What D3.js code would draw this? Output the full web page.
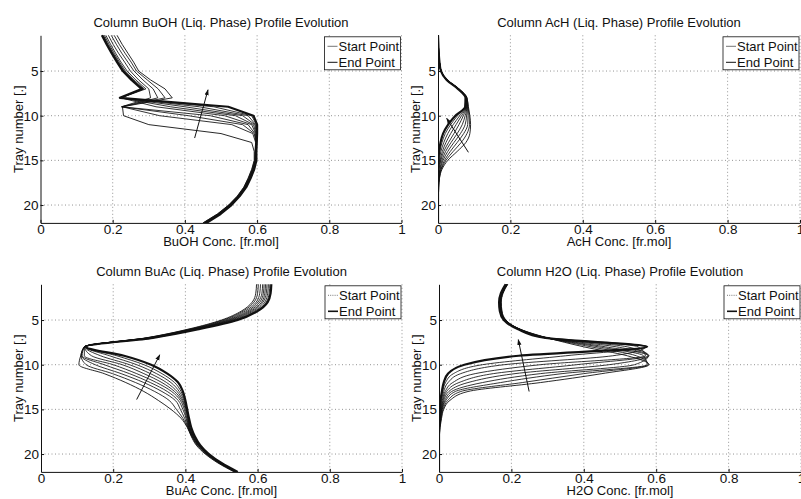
<!DOCTYPE html>
<html lang="en">
  <head>
    <meta charset="UTF-8" />
    <title>Column Profile Evolution</title>
    <script src="https://d3js.org/d3.v7.min.js"></script>
    <style>
      body { margin: 0; background: #fff; }
      svg { display: block; font-family: "Liberation Sans", Arial, sans-serif; }
    </style>
  </head>
  <body>
    <svg id="canvas"></svg>
  </body>
  <script>
    let trays = [1, 2, 3, 4, 5, 6, 7, 8, 9, 10, 11, 12, 13, 14, 15, 16, 17, 18, 19, 20, 21, 22];
    let xTicks = [0, 0.2, 0.4, 0.6, 0.8, 1];
    let xTickLabels = ["0", "0.2", "0.4", "0.6", "0.8", "1"];
    let yTicks = [5, 10, 15, 20];
    let legendLabels = ["Start Point", "End Point"];

    // profiles: first row = start point, last row = end point
    let buohProfiles = [
      [0.212, 0.226, 0.242, 0.258, 0.272, 0.305, 0.345, 0.365, 0.227, 0.230, 0.300, 0.500, 0.585, 0.592, 0.592, 0.585, 0.575, 0.563, 0.545, 0.521, 0.490, 0.450],
      [0.204, 0.218, 0.234, 0.251, 0.266, 0.296, 0.326, 0.345, 0.226, 0.330, 0.530, 0.588, 0.596, 0.594, 0.593, 0.586, 0.576, 0.564, 0.546, 0.522, 0.491, 0.451],
      [0.196, 0.210, 0.225, 0.242, 0.259, 0.284, 0.312, 0.325, 0.225, 0.410, 0.560, 0.592, 0.597, 0.595, 0.594, 0.587, 0.577, 0.565, 0.547, 0.523, 0.493, 0.453],
      [0.188, 0.201, 0.216, 0.233, 0.249, 0.272, 0.300, 0.305, 0.224, 0.470, 0.575, 0.594, 0.598, 0.596, 0.595, 0.588, 0.578, 0.566, 0.548, 0.524, 0.494, 0.454],
      [0.181, 0.194, 0.208, 0.223, 0.240, 0.264, 0.292, 0.223, 0.320, 0.510, 0.585, 0.596, 0.598, 0.597, 0.596, 0.589, 0.579, 0.567, 0.549, 0.525, 0.495, 0.455],
      [0.177, 0.190, 0.204, 0.219, 0.235, 0.259, 0.287, 0.222, 0.360, 0.540, 0.590, 0.597, 0.598, 0.597, 0.596, 0.590, 0.580, 0.568, 0.550, 0.526, 0.496, 0.456],
      [0.174, 0.187, 0.201, 0.216, 0.232, 0.256, 0.284, 0.222, 0.400, 0.560, 0.594, 0.598, 0.598, 0.597, 0.597, 0.591, 0.581, 0.569, 0.551, 0.527, 0.497, 0.457],
      [0.172, 0.185, 0.199, 0.214, 0.230, 0.254, 0.282, 0.221, 0.440, 0.575, 0.596, 0.599, 0.598, 0.597, 0.597, 0.591, 0.581, 0.569, 0.551, 0.528, 0.498, 0.458],
      [0.171, 0.184, 0.198, 0.213, 0.229, 0.253, 0.281, 0.220, 0.480, 0.585, 0.598, 0.600, 0.599, 0.598, 0.598, 0.592, 0.582, 0.570, 0.552, 0.529, 0.499, 0.459],
      [0.170, 0.183, 0.197, 0.212, 0.228, 0.252, 0.280, 0.220, 0.520, 0.590, 0.600, 0.600, 0.599, 0.598, 0.598, 0.592, 0.582, 0.570, 0.552, 0.529, 0.499, 0.460]
    ];

    let achProfiles = [
      [0.000, 0.001, 0.002, 0.004, 0.009, 0.026, 0.058, 0.080, 0.084, 0.088, 0.090, 0.088, 0.077, 0.053, 0.027, 0.011, 0.004, 0.002, 0.001, 0.000, 0.000, 0.000],
      [0.000, 0.001, 0.002, 0.004, 0.009, 0.026, 0.058, 0.080, 0.083, 0.086, 0.087, 0.080, 0.064, 0.042, 0.022, 0.009, 0.004, 0.002, 0.001, 0.000, 0.000, 0.000],
      [0.000, 0.001, 0.002, 0.004, 0.009, 0.025, 0.057, 0.079, 0.082, 0.083, 0.082, 0.071, 0.053, 0.034, 0.018, 0.008, 0.003, 0.001, 0.000, 0.000, 0.000, 0.000],
      [0.000, 0.001, 0.002, 0.004, 0.008, 0.025, 0.057, 0.079, 0.081, 0.079, 0.075, 0.062, 0.044, 0.027, 0.014, 0.006, 0.002, 0.001, 0.000, 0.000, 0.000, 0.000],
      [0.000, 0.001, 0.002, 0.004, 0.008, 0.025, 0.057, 0.078, 0.080, 0.075, 0.067, 0.053, 0.036, 0.021, 0.011, 0.005, 0.002, 0.001, 0.000, 0.000, 0.000, 0.000],
      [0.000, 0.001, 0.002, 0.004, 0.008, 0.024, 0.056, 0.078, 0.079, 0.070, 0.058, 0.044, 0.029, 0.016, 0.008, 0.003, 0.001, 0.000, 0.000, 0.000, 0.000, 0.000],
      [0.000, 0.001, 0.002, 0.004, 0.008, 0.024, 0.056, 0.077, 0.078, 0.065, 0.050, 0.035, 0.022, 0.012, 0.006, 0.002, 0.001, 0.000, 0.000, 0.000, 0.000, 0.000],
      [0.000, 0.001, 0.002, 0.004, 0.008, 0.024, 0.056, 0.077, 0.077, 0.060, 0.042, 0.027, 0.016, 0.008, 0.004, 0.001, 0.000, 0.000, 0.000, 0.000, 0.000, 0.000],
      [0.000, 0.001, 0.002, 0.004, 0.008, 0.024, 0.055, 0.076, 0.076, 0.054, 0.035, 0.020, 0.011, 0.005, 0.002, 0.001, 0.000, 0.000, 0.000, 0.000, 0.000, 0.000],
      [0.000, 0.001, 0.002, 0.004, 0.008, 0.024, 0.055, 0.076, 0.075, 0.048, 0.028, 0.014, 0.007, 0.003, 0.001, 0.000, 0.000, 0.000, 0.000, 0.000, 0.000, 0.000]
    ];

    let buacProfiles = [
      [0.597, 0.595, 0.585, 0.555, 0.500, 0.410, 0.290, 0.120, 0.110, 0.105, 0.175, 0.235, 0.285, 0.325, 0.360, 0.388, 0.405, 0.416, 0.430, 0.455, 0.490, 0.535],
      [0.602, 0.600, 0.590, 0.560, 0.505, 0.414, 0.292, 0.120, 0.111, 0.125, 0.198, 0.262, 0.315, 0.355, 0.375, 0.393, 0.406, 0.417, 0.432, 0.457, 0.492, 0.537],
      [0.608, 0.606, 0.596, 0.566, 0.511, 0.418, 0.295, 0.120, 0.112, 0.150, 0.222, 0.285, 0.335, 0.372, 0.386, 0.398, 0.407, 0.418, 0.434, 0.459, 0.494, 0.539],
      [0.614, 0.612, 0.601, 0.572, 0.517, 0.422, 0.298, 0.120, 0.114, 0.175, 0.245, 0.303, 0.350, 0.380, 0.393, 0.402, 0.408, 0.419, 0.435, 0.460, 0.495, 0.540],
      [0.618, 0.616, 0.606, 0.577, 0.522, 0.425, 0.300, 0.120, 0.120, 0.200, 0.265, 0.320, 0.362, 0.386, 0.397, 0.404, 0.409, 0.420, 0.436, 0.461, 0.496, 0.541],
      [0.622, 0.620, 0.611, 0.582, 0.527, 0.428, 0.302, 0.121, 0.140, 0.225, 0.285, 0.335, 0.370, 0.390, 0.400, 0.406, 0.410, 0.421, 0.437, 0.462, 0.497, 0.542],
      [0.626, 0.624, 0.615, 0.587, 0.532, 0.431, 0.304, 0.122, 0.165, 0.245, 0.303, 0.348, 0.377, 0.393, 0.402, 0.407, 0.411, 0.422, 0.438, 0.463, 0.498, 0.543],
      [0.630, 0.628, 0.620, 0.592, 0.537, 0.434, 0.306, 0.123, 0.190, 0.265, 0.320, 0.360, 0.383, 0.396, 0.403, 0.408, 0.412, 0.423, 0.439, 0.463, 0.498, 0.543],
      [0.634, 0.632, 0.624, 0.596, 0.541, 0.437, 0.308, 0.124, 0.210, 0.285, 0.335, 0.370, 0.388, 0.398, 0.404, 0.409, 0.413, 0.424, 0.440, 0.464, 0.499, 0.544],
      [0.638, 0.636, 0.628, 0.600, 0.545, 0.440, 0.310, 0.125, 0.230, 0.305, 0.350, 0.380, 0.393, 0.400, 0.405, 0.410, 0.416, 0.426, 0.441, 0.465, 0.500, 0.545]
    ];

    let h2oProfiles = [
      [0.190, 0.177, 0.172, 0.174, 0.185, 0.223, 0.300, 0.400, 0.520, 0.580, 0.450, 0.280, 0.080, 0.030, 0.013, 0.007, 0.003, 0.001, 0.000, 0.000, 0.000, 0.000],
      [0.189, 0.176, 0.171, 0.173, 0.184, 0.222, 0.299, 0.420, 0.545, 0.578, 0.400, 0.230, 0.060, 0.024, 0.011, 0.006, 0.002, 0.001, 0.000, 0.000, 0.000, 0.000],
      [0.189, 0.176, 0.171, 0.173, 0.184, 0.222, 0.299, 0.440, 0.565, 0.575, 0.340, 0.170, 0.045, 0.019, 0.009, 0.005, 0.002, 0.001, 0.000, 0.000, 0.000, 0.000],
      [0.188, 0.175, 0.170, 0.172, 0.183, 0.221, 0.298, 0.460, 0.578, 0.540, 0.280, 0.120, 0.035, 0.016, 0.008, 0.004, 0.002, 0.000, 0.000, 0.000, 0.000, 0.000],
      [0.187, 0.174, 0.169, 0.171, 0.182, 0.220, 0.297, 0.490, 0.580, 0.470, 0.210, 0.080, 0.027, 0.013, 0.007, 0.003, 0.001, 0.000, 0.000, 0.000, 0.000, 0.000],
      [0.187, 0.174, 0.169, 0.171, 0.182, 0.220, 0.297, 0.520, 0.578, 0.380, 0.150, 0.055, 0.021, 0.011, 0.006, 0.003, 0.001, 0.000, 0.000, 0.000, 0.000, 0.000],
      [0.186, 0.173, 0.168, 0.170, 0.181, 0.219, 0.296, 0.550, 0.570, 0.280, 0.100, 0.038, 0.017, 0.009, 0.005, 0.002, 0.001, 0.000, 0.000, 0.000, 0.000, 0.000],
      [0.185, 0.172, 0.167, 0.169, 0.180, 0.218, 0.295, 0.570, 0.480, 0.180, 0.060, 0.025, 0.013, 0.007, 0.004, 0.002, 0.001, 0.000, 0.000, 0.000, 0.000, 0.000],
      [0.185, 0.172, 0.167, 0.169, 0.180, 0.218, 0.295, 0.575, 0.350, 0.120, 0.040, 0.018, 0.010, 0.005, 0.003, 0.001, 0.000, 0.000, 0.000, 0.000, 0.000, 0.000],
      [0.184, 0.171, 0.166, 0.168, 0.179, 0.217, 0.294, 0.575, 0.220, 0.070, 0.025, 0.013, 0.008, 0.004, 0.002, 0.001, 0.000, 0.000, 0.000, 0.000, 0.000, 0.000]
    ];

    // arrow annotations [conc, tray] from tail to head
    let buohArrow = [[0.427, 12.5], [0.464, 7.1]];
    let achArrow = [[0.084, 14.1], [0.024, 10.3]];
    let buacArrow = [[0.265, 13.9], [0.329, 8.9]];
    let h2oArrow = [[0.249, 13.0], [0.219, 7.2]];

    let width = 801;
    let height = 499;
    let font = "Liberation Sans, Arial, sans-serif";

    let panels = [
      { name: "BuOH", profiles: buohProfiles, arrow: buohArrow, left: 40.5, right: 401.5, top: 35.3, bottom: 222.9, smooth: false, dotted: false },
      { name: "AcH", profiles: achProfiles, arrow: achArrow, left: 438, right: 800, top: 35.3, bottom: 222.9, smooth: true, dotted: false },
      { name: "BuAc", profiles: buacProfiles, arrow: buacArrow, left: 41, right: 402, top: 284.3, bottom: 471.9, smooth: true, dotted: true },
      { name: "H2O", profiles: h2oProfiles, arrow: h2oArrow, left: 439, right: 801, top: 284.3, bottom: 471.9, smooth: true, dotted: true }
    ];

    let svg = d3.select("svg").attr("width", width).attr("height", height);

    let defs = svg.append("defs");
    defs
      .append("marker")
      .attr("id", "arrowhead")
      .attr("viewBox", "0 0 10 10")
      .attr("refX", 9)
      .attr("refY", 5)
      .attr("markerWidth", 6)
      .attr("markerHeight", 6)
      .attr("orient", "auto")
      .append("path")
      .attr("d", "M0,1.5 L10,5 L0,8.5 z")
      .attr("fill", "#111");

    let drawPanel = (p, idx) => {
      let x = d3.scaleLinear().domain([0, 1]).range([p.left, p.right]);
      let y = d3.scaleLinear().domain([1, 22]).range([p.top, p.bottom]);
      let g = svg.append("g");

      defs
        .append("clipPath")
        .attr("id", "clip" + idx)
        .append("rect")
        .attr("x", p.left)
        .attr("y", p.top - 3)
        .attr("width", p.right - p.left)
        .attr("height", p.bottom - p.top + 3);

      // grid
      g.selectAll(".vgrid")
        .data(xTicks.slice(1))
        .enter()
        .append("line")
        .attr("x1", (d) => x(d))
        .attr("x2", (d) => x(d))
        .attr("y1", p.top)
        .attr("y2", p.bottom)
        .attr("stroke", "#666")
        .attr("stroke-width", 0.7)
        .attr("stroke-dasharray", "1,2.5");

      g.selectAll(".hgrid")
        .data(yTicks)
        .enter()
        .append("line")
        .attr("x1", p.left)
        .attr("x2", p.right)
        .attr("y1", (d) => y(d))
        .attr("y2", (d) => y(d))
        .attr("stroke", "#666")
        .attr("stroke-width", 0.7)
        .attr("stroke-dasharray", "1,2.5");

      let line = d3
        .line()
        .x((d) => x(d[1]))
        .y((d) => y(d[0]))
        .curve(p.smooth ? d3.curveMonotoneY : d3.curveLinear);

      let curves = g.append("g").attr("clip-path", "url(#clip" + idx + ")");
      let last = p.profiles.length - 1;
      let order = p.profiles.map((prof, i) => i).filter((i) => i != 0 && i != last).concat([0, last]);

      order.forEach((i) => {
        curves
          .append("path")
          .datum(trays.map((t, j) => [t, p.profiles[i][j]]))
          .attr("d", line)
          .attr("fill", "none")
          .attr("stroke", "#111")
          .attr("stroke-linejoin", "round")
          .attr("stroke-width", i == last ? 2.2 : i == 0 ? 0.9 : 0.85);
      });

      // arrow
      g.append("line")
        .attr("x1", x(p.arrow[0][0]))
        .attr("y1", y(p.arrow[0][1]))
        .attr("x2", x(p.arrow[1][0]))
        .attr("y2", y(p.arrow[1][1]))
        .attr("stroke", "#111")
        .attr("stroke-width", 1)
        .attr("marker-end", "url(#arrowhead)");

      // axes
      let xAxis = d3
        .axisBottom(x)
        .tickValues(xTicks)
        .tickFormat((d, i) => xTickLabels[i])
        .tickSizeInner(-3)
        .tickSizeOuter(0)
        .tickPadding(2);

      let yAxis = d3
        .axisLeft(y)
        .tickValues(yTicks)
        .tickSizeInner(-3)
        .tickSizeOuter(0)
        .tickPadding(2);

      g.append("g")
        .attr("transform", "translate(0," + p.bottom + ")")
        .call(xAxis)
        .attr("font-size", 13.5)
        .attr("font-family", font);

      g.append("g")
        .attr("transform", "translate(" + p.left + ",0)")
        .call(yAxis)
        .attr("font-size", 13.5)
        .attr("font-family", font);

      g.selectAll(".domain").attr("stroke", "#111");
      g.selectAll(".tick line").attr("stroke", "#111");
      g.selectAll(".tick text").attr("fill", "#111");

      // titles
      let cx = (p.left + p.right) / 2;
      g.append("text")
        .attr("x", cx)
        .attr("y", p.top - 8)
        .attr("text-anchor", "middle")
        .attr("font-size", 13)
        .attr("fill", "#111")
        .text("Column " + p.name + " (Liq. Phase) Profile Evolution");

      g.append("text")
        .attr("x", cx)
        .attr("y", p.bottom + 23)
        .attr("text-anchor", "middle")
        .attr("font-size", 13)
        .attr("fill", "#111")
        .text(p.name + " Conc. [fr.mol]");

      g.append("text")
        .attr("transform", "translate(" + (p.left - 18) + "," + (p.top + p.bottom) / 2 + ") rotate(-90)")
        .attr("text-anchor", "middle")
        .attr("font-size", 13)
        .attr("fill", "#111")
        .text("Tray number [.]");

      // legend
      let lx = p.right - 77;
      let ly = p.top + 1.5;
      let legend = g.append("g");
      legend
        .append("rect")
        .attr("x", lx)
        .attr("y", ly)
        .attr("width", 76)
        .attr("height", 33)
        .attr("fill", "#fff")
        .attr("stroke", "#111")
        .attr("stroke-width", 0.8);

      legendLabels.forEach((label, i) => {
        let yy = ly + 9.5 + i * 16;
        legend
          .append("line")
          .attr("x1", lx + 3)
          .attr("x2", lx + 13)
          .attr("y1", yy)
          .attr("y2", yy)
          .attr("stroke", i == 0 ? "#666" : "#111")
          .attr("stroke-width", i == 0 ? 0.9 : p.dotted ? 1.6 : 1)
          .attr("stroke-dasharray", i == 0 && p.dotted ? "1,1.2" : null);
        legend
          .append("text")
          .attr("x", lx + 14)
          .attr("y", yy + 4.5)
          .attr("font-size", 13)
          .attr("fill", "#111")
          .text(label);
      });
    };

    panels.forEach((p, i) => drawPanel(p, i));
  </script>
</html>
